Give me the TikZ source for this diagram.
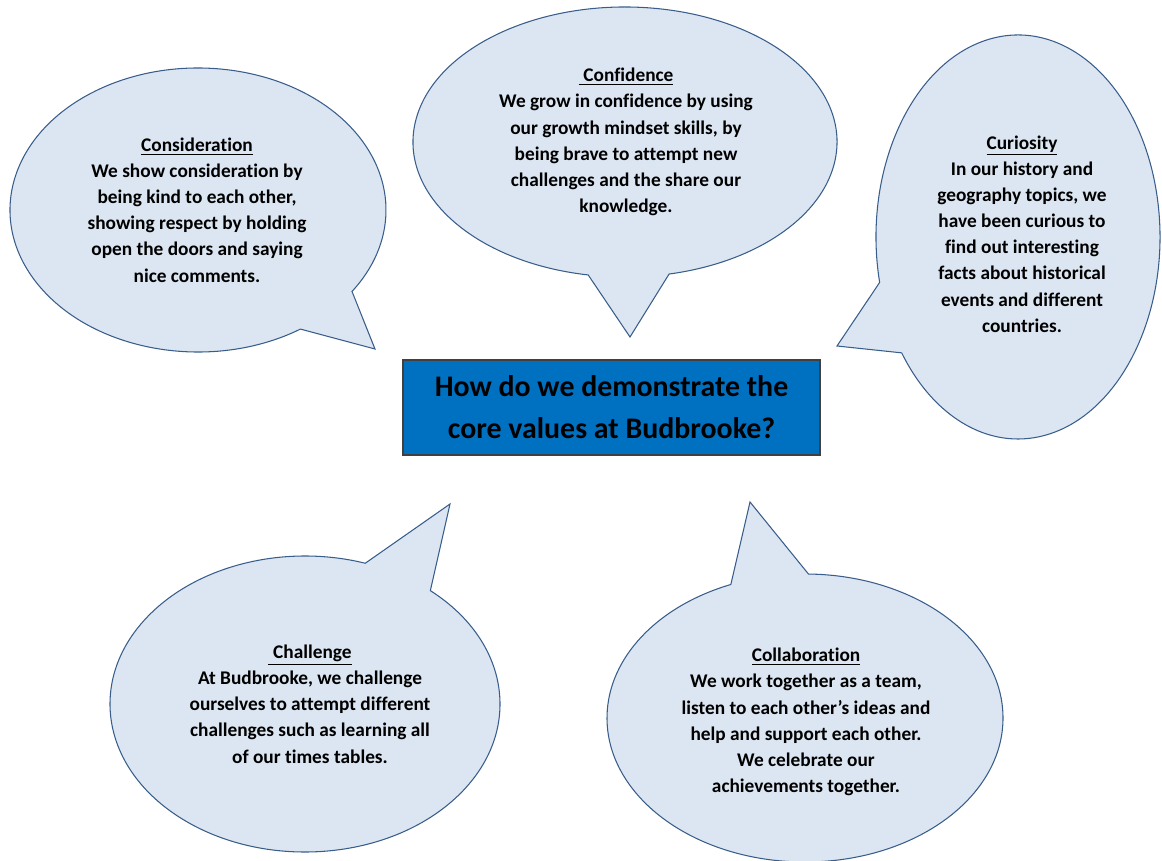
\documentclass[tikz,border=0pt]{standalone}
\usepackage{fontspec}
\setmainfont{Carlito}[Ligatures=CommonOff]
\definecolor{bubblefill}{HTML}{DCE6F2}
\definecolor{bubbleline}{HTML}{385D8A}
\definecolor{corefill}{HTML}{0070C0}

\begin{document}
\begin{tikzpicture}[x=0.02cm,y=-0.02cm,
		bubble/.style={fill=bubblefill,draw=bubbleline,line width=0.6pt,line join=miter},
		say/.style={align=center,inner sep=0pt,font=\bfseries\fontsize{11}{14.9}\selectfont},
		core/.style={rectangle,fill=corefill,draw=black!75,line width=0.8pt,minimum width=8.34cm,minimum height=1.9cm,align=center,inner sep=0pt,font=\bfseries\fontsize{17}{23.8}\selectfont}]
	\useasboundingbox (0,0) rectangle (1162,861);
	\filldraw[bubble] (198,210) ++(57:188 and 142) arc[start angle=57,end angle=395,x radius=188,y radius=142] -- (375,349) -- cycle;
	\filldraw[bubble] (625,142) ++(100:212 and 135) arc[start angle=100,end angle=438,x radius=212,y radius=135] -- (630,337) -- cycle;
	\filldraw[bubble] (1018,237) ++(167:142 and 202) arc[start angle=167,end angle=505,x radius=142,y radius=202] -- (837,346) -- cycle;
	\filldraw[bubble] (305,704) ++(-50:195 and 148) arc[start angle=-50,end angle=288,x radius=195,y radius=148] -- (450,504) -- cycle;
	\filldraw[bubble] (805,718) ++(271:198 and 144) arc[start angle=271,end angle=608,x radius=198,y radius=144] -- (750,502) -- cycle;
	\node[core] (core) at (611.5,407.5) {How do we demonstrate the\\core values at Budbrooke?};
	\node[say] (consid) at (197,210) {\underline{Consideration}\\We show consideration by\\being kind to each other,\\showing respect by holding\\open the doors and saying\\nice comments.};
	\node[say] (confid) at (626,142) {\underline{\hspace{0.25em}Confidence}\\We grow in confidence by using\\our growth mindset skills, by\\being brave to attempt new\\challenges and the share our\\knowledge.};
	\node[say] (curios) at (1022,234) {\underline{Curiosity}\\In our history and\\geography topics, we\\have been curious to\\find out interesting\\facts about historical\\events and different\\countries.};
	\node[say] (challg) at (310,704) {\underline{\hspace{0.25em}Challenge}\\At Budbrooke, we challenge\\ourselves to attempt different\\challenges such as learning all\\of our times tables.};
	\node[say] (collab) at (806,722) {\underline{Collaboration}\\We work together as a team,\\listen to each other’s ideas and\\help and support each other.\\We celebrate our\\achievements together.};
\end{tikzpicture}
\end{document}
